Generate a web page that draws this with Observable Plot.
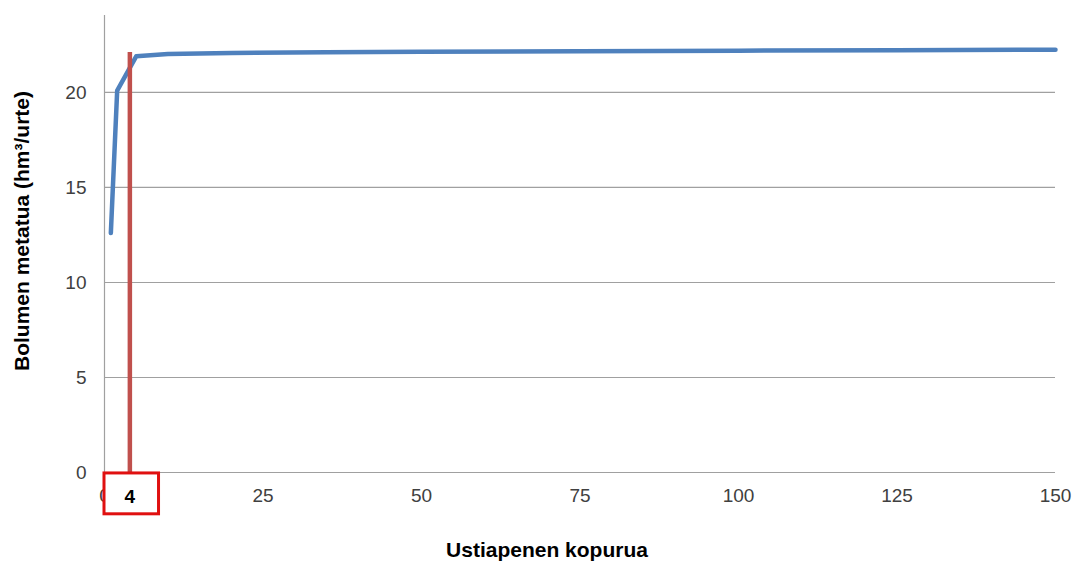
<!DOCTYPE html>
<html>
<head>
<meta charset="utf-8">
<script src="https://cdn.jsdelivr.net/npm/d3@7"></script>
<script src="https://cdn.jsdelivr.net/npm/@observablehq/plot@0.6"></script>
<style>
  body { margin: 0; background: #fff; font-family: Arial, "Liberation Sans", sans-serif; }
</style>
</head>
<body>
<div id="chart"></div>
<script>
const openings = [1, 2, 5, 10, 20, 35, 50, 75, 100, 125, 150];
const volume = [12.6, 20.1, 21.9, 22.02, 22.08, 22.12, 22.14, 22.17, 22.2, 22.22, 22.25];
const xTicks = [0, 25, 50, 75, 100, 125, 150];
const yTicks = [0, 5, 10, 15, 20];
const markerX = 4;
const markerTop = 22.1;
const xTitle = "Ustiapenen kopurua";
const yTitle = "Bolumen metatua (hm³/urte)";

const data = openings.map((x, i) => ({x, y: volume[i]}));

const plot = Plot.plot({
  width: 1075,
  height: 568,
  marginLeft: 104,
  marginRight: 20,
  marginTop: 15,
  marginBottom: 96,
  style: {fontFamily: "Arial, 'Liberation Sans', sans-serif", fontSize: "19px", color: "#404040", background: "#fff", overflow: "visible"},
  x: {domain: [0, 150], ticks: xTicks, tickSize: 0, tickPadding: 16, label: null},
  y: {domain: [0, 24.05], ticks: yTicks, tickSize: 0, tickPadding: 18, label: null},
  marks: [
    Plot.gridY(yTicks, {stroke: "#a0a0a0", strokeOpacity: 1, strokeWidth: 1.2}),
    Plot.ruleX([0], {stroke: "#a0a0a0", strokeWidth: 1.2}),
    Plot.line(data, {x: "x", y: "y", stroke: "#4f81bd", strokeWidth: 4.5, strokeLinejoin: "round"}),
    Plot.ruleX([markerX], {y1: 0, y2: markerTop, stroke: "#c0504d", strokeWidth: 4.5}),
    Plot.rect([markerX], {x1: d => d - 4, x2: d => d + 4.6, y1: -0.05, y2: -2.2, fill: "#fff", stroke: "#e01010", strokeWidth: 3, clip: false}),
    Plot.text([markerX], {x: d => d, y: -1.3, text: d => String(d), fontWeight: "bold", fontSize: 19, fill: "#000"}),
    Plot.text([xTitle], {frameAnchor: "bottom", textAnchor: "middle", dy: 84, dx: -33, fontWeight: "bold", fontSize: 21, fill: "#000"}),
    Plot.text([yTitle], {frameAnchor: "left", textAnchor: "middle", dx: -82, dy: -13, rotate: -90, fontWeight: "bold", fontSize: 21, fill: "#000"})
  ]
});
document.getElementById("chart").appendChild(plot);
</script>
</body>
</html>
